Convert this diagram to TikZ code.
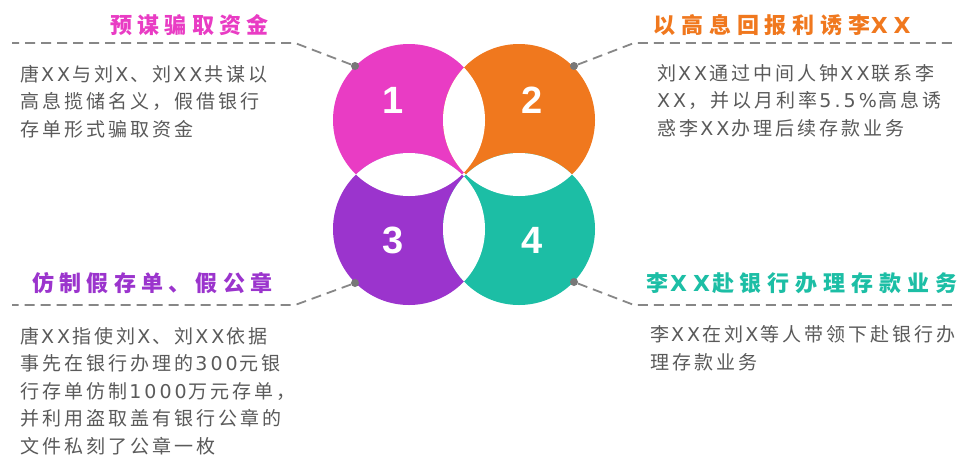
\documentclass[tikz,border=0pt]{standalone}
\usepackage{fontspec}
\setmainfont{Liberation Sans}
\newfontfamily\cjk{Noto Sans CJK SC}
\newfontfamily\latf{DejaVu Sans}
\newcommand\latb[1]{\kern2pt{\latf\addfontfeatures{LetterSpace=16}#1}\kern2pt}
\newcommand\latstart[1]{{\latf\addfontfeatures{LetterSpace=16}#1}\kern2pt}
\definecolor{pinkc}{RGB}{233,60,196}
\definecolor{orangec}{RGB}{240,120,30}
\definecolor{purplec}{RGB}{155,52,205}
\definecolor{tealc}{RGB}{28,190,165}
\definecolor{bodygray}{RGB}{90,90,90}
\definecolor{linegray}{RGB}{135,135,135}
\definecolor{dotgray}{RGB}{120,120,120}
\begin{document}
\begin{tikzpicture}[x=1pt,y=-1pt,
  dotnode/.style={circle,fill=dotgray,inner sep=0pt,minimum size=8pt},
  leader/.style={draw=linegray,line width=1.8pt,dash pattern=on 10pt off 6pt},
  titletext/.style={anchor=base west,inner sep=0pt,font=\cjk\bfseries\fontsize{22}{26}\selectfont},
  bodytext/.style={anchor=base west,inner sep=0pt,align=left,text=bodygray,font=\cjk\fontsize{19}{27.5}\selectfont\addfontfeatures{LetterSpace=16}},
  numtext/.style={text=white,inner sep=0pt,font=\bfseries\fontsize{38}{40}\selectfont}]
\fill[white] (0,0) rectangle (960,456);
\useasboundingbox (0,0) rectangle (960,456);
% circles
\coordinate (c1) at (409,120);
\coordinate (c2) at (519,120);
\coordinate (c3) at (409,229);
\coordinate (c4) at (519,229);
\fill[pinkc] (c1) circle[radius=76pt];
\fill[orangec] (c2) circle[radius=76pt];
\fill[purplec] (c3) circle[radius=76pt];
\fill[tealc] (c4) circle[radius=76pt];
\begin{scope}
\clip (c1) circle[radius=76pt];
\fill[white] (c2) circle[radius=76pt];
\fill[white] (c3) circle[radius=76pt];
\end{scope}
\begin{scope}
\clip (c4) circle[radius=76pt];
\fill[white] (c2) circle[radius=76pt];
\fill[white] (c3) circle[radius=76pt];
\end{scope}
% numbers
\node[numtext] (n1) at (393,100) {1};
\node[numtext] (n2) at (532,100) {2};
\node[numtext] (n3) at (393,240) {3};
\node[numtext] (n4) at (532,240) {4};
% leader lines
\coordinate (k1) at (295,43);  \coordinate (e1) at (12,43);
\coordinate (k2) at (634,43);  \coordinate (e2) at (957,43);
\coordinate (k3) at (295,305); \coordinate (e3) at (12,305);
\coordinate (k4) at (634,305); \coordinate (e4) at (957,305);
\node[dotnode] (d1) at (355,66) {};
\node[dotnode] (d2) at (574,66) {};
\node[dotnode] (d3) at (355,283) {};
\node[dotnode] (d4) at (574,282) {};
\draw[leader] (d1) -- (k1) -- (e1);
\draw[leader] (d2) -- (k2) -- (e2);
\draw[leader] (d3) -- (k3) -- (e3);
\draw[leader] (d4) -- (k4) -- (e4);
% titles
\node[titletext,text=pinkc] (t1) at (110,33) {\addfontfeatures{LetterSpace=24}预谋骗取资金};
\node[titletext,text=orangec] (t2) at (653,33) {\addfontfeatures{LetterSpace=27}以高息回报利诱李{\latf\bfseries\addfontfeatures{LetterSpace=27}XX}};
\node[titletext,text=purplec] (t3) at (32,291) {\addfontfeatures{LetterSpace=24}仿制假存单、假公章};
\node[titletext,text=tealc] (t4) at (646,291) {\addfontfeatures{LetterSpace=27}李\kern2pt{\latf\bfseries\addfontfeatures{LetterSpace=27}XX}\kern2pt 赴银行办理存款业务};
% bodies (anchored at the baseline of the last line)
\node[bodytext] (b1) at (20,136) {唐\latb{XX}与刘\latb{X}、刘\latb{XX}共谋以\\高息揽储名义，假借银行\\存单形式骗取资金};
\node[bodytext] (b2) at (657,135) {刘\latb{XX}通过中间人钟\latb{XX}联系李\\\latstart{XX}，并以月利率\latb{5.5\%}高息诱\\惑李\latb{XX}办理后续存款业务};
\node[bodytext] (b3) at (20,453) {唐\latb{XX}指使刘\latb{X}、刘\latb{XX}依据\\事先在银行办理的\latb{300}元银\\行存单仿制\latb{1000}万元存单，\\并利用盗取盖有银行公章的\\文件私刻了公章一枚};
\node[bodytext] (b4) at (650,369) {李\latb{XX}在刘\latb{X}等人带领下赴银行办\\理存款业务};
\end{tikzpicture}
\end{document}
